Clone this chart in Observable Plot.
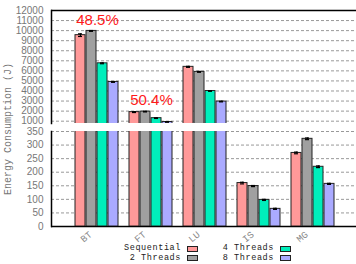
<!DOCTYPE html>
<html><head><meta charset="utf-8">
<script src="https://cdn.jsdelivr.net/npm/d3@7"></script>
<script src="https://cdn.jsdelivr.net/npm/@observablehq/plot@0.6"></script>
<style>
body{margin:0;background:#fff;}
#wrap{position:relative;width:356px;height:264px;overflow:hidden;background:#fff;}
#wrap svg{position:absolute;left:0;background:transparent;overflow:visible;}
.ytitle{position:absolute;left:8px;top:129px;transform:translate(-50%,-50%) rotate(-90deg);font:10px "Liberation Mono",monospace;color:#777;white-space:nowrap;}
.leg{position:absolute;font:8.5px "Liberation Mono",monospace;letter-spacing:0.6px;color:#222;white-space:nowrap;line-height:9px;height:9px;}
.sw{position:absolute;width:9px;height:4px;border:1.5px solid #222;}
</style></head>
<body><div id="wrap"></div>
<script>
const groups = ["BT", "FT", "LU", "IS", "MG"];
const series = ["Sequential", "2 Threads", "4 Threads", "8 Threads"];
const sequential = [9550, 1900, 6400, 160, 271];
const threads2 = [9970, 1950, 5900, 149, 323];
const threads4 = [6750, 1300, 4000, 98, 220];
const threads8 = [4900, 920, 2950, 65, 157];
const errSequential = [130, 40, 50, 3, 3];
const errThreads2 = [40, 30, 40, 2, 3];
const errThreads4 = [40, 30, 30, 2, 3];
const errThreads8 = [40, 20, 30, 2, 2];
const colors = ["#ff9999", "#a0a0a0", "#00eebb", "#aaaaff"];
const upperTicks = [1000, 2000, 3000, 4000, 5000, 6000, 7000, 8000, 9000, 10000, 11000, 12000];
const lowerTicks = [0, 50, 100, 150, 200, 250, 300, 350];
const annotationGroups = ["BT", "FT"];
const annotationLabels = ["48.5%", "50.4%"];

const valueSets = [sequential, threads2, threads4, threads8];
const errSets = [errSequential, errThreads2, errThreads4, errThreads8];
const data = [];
groups.forEach((g, i) => series.forEach((s, j) => data.push({group: g, series: s, value: valueSets[j][i], err: errSets[j][i]})));
const annotations = annotationGroups.map((g, k) => ({group: g, label: annotationLabels[k], y: d3.max(data.filter(d => d.group === g), d => d.value)}));

const fxOpts = {domain: groups, paddingInner: 0.156, paddingOuter: 0.376, align: 0.53, axis: null};
const xOpts = {domain: series, paddingInner: 0.06, paddingOuter: 0.05, axis: null};
const colorOpts = {domain: series, range: colors};
const grid = {stroke: "#999", strokeDasharray: "3,2", strokeWidth: 1};
const sans = "Liberation Sans, Arial, sans-serif";
const mono = "Liberation Mono, monospace";
const axisStyle = {tickSize: 0, tickPadding: 8, fontSize: 10, fontFamily: sans, color: "#777", label: null, tickFormat: d3.format("d")};

const upperDims = {width: 356, height: 124, marginLeft: 51, marginRight: 0, marginTop: 10, marginBottom: 1};
const lowerDims = {width: 356, height: 140, marginLeft: 51, marginRight: 0, marginTop: 7, marginBottom: 38};
const upperY = {domain: [770, 12000], axis: null};
const lowerY = {domain: [0, 350], axis: null};

function barMarks(){
  return [
    Plot.barY(data, {fx: "group", x: "series", y: "value", fill: "series", stroke: "#222", strokeWidth: 1, clip: true}),
    Plot.ruleX(data, {fx: "group", x: "series", y1: d => d.value - d.err, y2: d => d.value + d.err, stroke: "#000", strokeWidth: 1.2, clip: true}),
    Plot.tickY(data, {fx: "group", x: "series", y: d => d.value + d.err, stroke: "#000", strokeWidth: 1.2, inset: 3, clip: true}),
    Plot.tickY(data, {fx: "group", x: "series", y: d => d.value - d.err, stroke: "#000", strokeWidth: 1.2, inset: 3, clip: true})
  ];
}

// upper panel (broken axis, 1000-12000): background grid/axis + faceted bars
const upperBg = Plot.plot({
  ...upperDims, style: {background: "transparent"},
  y: upperY,
  marks: [
    Plot.ruleY(upperTicks, grid),
    Plot.axisY(upperTicks, axisStyle),
    Plot.ruleY([12000], {stroke: "#000", strokeWidth: 1.5}),
    Plot.frame({anchor: "left", stroke: "#000", strokeWidth: 1.5})
  ]
});
const upperBars = Plot.plot({
  ...upperDims, style: {background: "transparent"},
  fx: fxOpts, x: xOpts, y: upperY, color: colorOpts,
  marks: [
    ...barMarks(),
    Plot.text(annotations, {fx: "group", y: "y", text: "label", fill: "#ff1a1a", fontSize: 15, fontFamily: sans, dy: -11, letterSpacing: "-1px"})
  ]
});

// lower panel (0-350)
const lowerBg = Plot.plot({
  ...lowerDims, style: {background: "transparent"},
  y: lowerY,
  marks: [
    Plot.ruleY(lowerTicks.filter(t => t > 0), grid),
    Plot.axisY(lowerTicks, axisStyle),
    Plot.ruleY([0], {stroke: "#000", strokeWidth: 1.5}),
    Plot.frame({anchor: "left", stroke: "#000", strokeWidth: 1.5})
  ]
});
const lowerBars = Plot.plot({
  ...lowerDims, style: {background: "transparent"},
  fx: fxOpts, x: xOpts, y: lowerY, color: colorOpts,
  marks: [
    ...barMarks(),
    Plot.text(groups, {fx: d => d, text: d => d, frameAnchor: "bottom", rotate: -40, textAnchor: "end", dx: -5, dy: 9, fontSize: 9.5, fontFamily: mono, fill: "#888"})
  ]
});

const wrap = document.getElementById("wrap");
[[upperBg, 0], [upperBars, 0], [lowerBg, 124], [lowerBars, 124]].forEach(([svg, top]) => {
  svg.style.top = top + "px";
  wrap.appendChild(svg);
});

const title = document.createElement("div");
title.className = "ytitle";
title.textContent = "Energy Consumption (J)";
wrap.appendChild(title);

// legend: two columns, two rows, text then swatch
const legendPos = [[181, 244], [181, 253.6], [274, 244], [274, 253.6]];
series.forEach((s, j) => {
  const [xr, yt] = legendPos[j];
  const t = document.createElement("div");
  t.className = "leg";
  t.textContent = s;
  t.style.right = (356 - xr) + "px";
  t.style.top = yt + "px";
  wrap.appendChild(t);
  const sw = document.createElement("div");
  sw.className = "sw";
  sw.style.background = colors[j];
  sw.style.left = (xr + 6) + "px";
  sw.style.top = (yt + 1.5) + "px";
  wrap.appendChild(sw);
});
</script>
</body></html>
